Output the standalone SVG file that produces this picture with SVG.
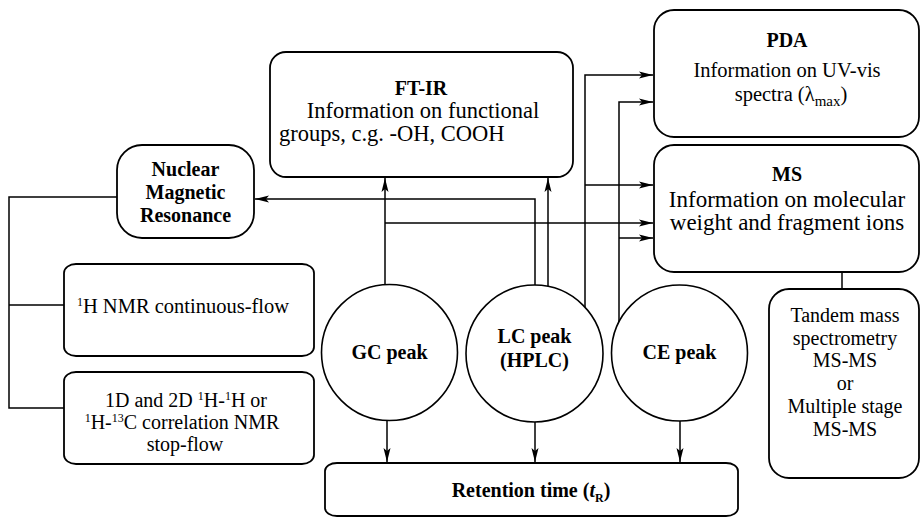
<svg xmlns="http://www.w3.org/2000/svg" width="922" height="518" viewBox="0 0 922 518">
  <defs>
    <marker id="arrow" viewBox="0 0 14 8" refX="14" refY="4" markerWidth="14" markerHeight="8" markerUnits="userSpaceOnUse" orient="auto">
      <path d="M0,0.5 L14,4 L0,7.5 L3,4 Z" fill="#000"/>
    </marker>
  </defs>
  <style>
    .box { fill: #fff; stroke: #000; stroke-width: 1.8; }
    .ring { fill: #fff; stroke: #000; stroke-width: 1.6; }
    .wire { fill: none; stroke: #000; stroke-width: 1.5; }
    .arr { marker-end: url(#arrow); }
    text { font-family: "Liberation Serif", "Times New Roman", serif; fill: #000; text-anchor: middle; }
    .hd { font-weight: bold; font-size: 20px; }
    .tx { font-size: 20px; }
    .mid { font-size: 20.5px; }
    .big { font-size: 22.5px; }
    .huge { font-size: 23px; }
    .sm { font-size: 12px; }
    .sub { font-size: 15px; }
    .start { text-anchor: start; }
  </style>

  <rect width="922" height="518" fill="#fff"/>

  <!-- connectors -->
  <g id="connectors">
    <!-- GC peak -->
    <path class="wire arr" d="M385,284 V178"/>
    <path class="wire arr" d="M385,223 H653"/>
    <path class="wire arr" d="M387,421 V462"/>
    <!-- LC peak -->
    <path class="wire arr" d="M535,287 V199 H255"/>
    <path class="wire arr" d="M548,289 V178"/>
    <path class="wire arr" d="M585,307 V75 H653"/>
    <path class="wire arr" d="M585,185 H653"/>
    <path class="wire arr" d="M535,422 V462"/>
    <!-- CE peak -->
    <path class="wire arr" d="M619,323 V102 H653"/>
    <path class="wire arr" d="M619,238 H653"/>
    <path class="wire arr" d="M680,421 V462"/>
    <!-- MS to tandem MS -->
    <path class="wire" d="M842,272 V289"/>
    <!-- NMR branches -->
    <path class="wire" d="M117,197 H9 V305 H64 M9,305 V408 H64"/>
  </g>

  <!-- FT-IR -->
  <g id="ftir">
    <rect class="box" x="270" y="52" width="303" height="125" rx="16" ry="16"/>
    <text class="hd" x="421" y="95">FT-IR</text>
    <text class="big" x="423" y="118">Information on functional</text>
    <text class="big start" x="279" y="141">groups, c.g. -OH, COOH</text>
  </g>

  <!-- PDA -->
  <g id="pda">
    <rect class="box" x="654" y="10" width="265" height="127" rx="20" ry="20"/>
    <text class="hd" x="787" y="47">PDA</text>
    <text class="mid" x="787" y="77">Information on UV-vis</text>
    <text class="mid" x="791" y="101">spectra (λ<tspan class="sub" dy="5">max</tspan><tspan dy="-5">)</tspan></text>
  </g>

  <!-- MS -->
  <g id="ms">
    <rect class="box" x="654" y="145" width="265" height="127" rx="20" ry="20"/>
    <text class="hd" x="787" y="181">MS</text>
    <text class="huge" x="787" y="207">Information on molecular</text>
    <text class="huge" x="787" y="230">weight and fragment ions</text>
  </g>

  <!-- Nuclear Magnetic Resonance -->
  <g id="nmr">
    <rect class="box" x="117" y="145" width="137" height="93" rx="25" ry="25"/>
    <text class="hd" x="185.5" y="176">Nuclear</text>
    <text class="hd" x="185.5" y="199">Magnetic</text>
    <text class="hd" x="185.5" y="222">Resonance</text>
  </g>

  <!-- 1H NMR continuous-flow -->
  <g id="nmr-continuous">
    <rect class="box" x="64" y="264" width="250" height="92" rx="12" ry="9"/>
    <text class="mid" x="183" y="313"><tspan class="sm" dy="-7">1</tspan><tspan dy="7">H NMR continuous-flow</tspan></text>
  </g>

  <!-- 1D / 2D NMR stop-flow -->
  <g id="nmr-stopflow">
    <rect class="box" x="64" y="372" width="250" height="92" rx="12" ry="9"/>
    <text class="tx" x="186" y="407">1D and 2D <tspan class="sm" dy="-7">1</tspan><tspan dy="7">H-</tspan><tspan class="sm" dy="-7">1</tspan><tspan dy="7">H or</tspan></text>
    <text class="tx" x="182" y="429"><tspan class="sm" dy="-7">1</tspan><tspan dy="7">H-</tspan><tspan class="sm" dy="-7">13</tspan><tspan dy="7">C correlation NMR</tspan></text>
    <text class="tx" x="185" y="451">stop-flow</text>
  </g>

  <!-- GC peak -->
  <g id="gc">
    <circle class="ring" cx="389.5" cy="352.5" r="68"/>
    <text class="hd" x="389.5" y="359">GC peak</text>
  </g>

  <!-- LC peak -->
  <g id="lc">
    <circle class="ring" cx="534.5" cy="353.5" r="68.5"/>
    <text class="hd" x="534.5" y="343">LC peak</text>
    <text class="hd" x="534.5" y="367">(HPLC)</text>
  </g>

  <!-- CE peak -->
  <g id="ce">
    <circle class="ring" cx="679.5" cy="353" r="68"/>
    <text class="hd" x="679.5" y="359">CE peak</text>
  </g>

  <!-- Tandem mass spectrometry -->
  <g id="tandem">
    <rect class="box" x="769" y="289" width="150" height="189" rx="20" ry="20"/>
    <text class="tx" x="845" y="322">Tandem mass</text>
    <text class="tx" x="845" y="345">spectrometry</text>
    <text class="tx" x="845" y="367">MS-MS</text>
    <text class="tx" x="845" y="390">or</text>
    <text class="tx" x="845" y="413">Multiple stage</text>
    <text class="tx" x="845" y="436">MS-MS</text>
  </g>

  <!-- Retention time -->
  <g id="retention">
    <rect class="box" x="325" y="463" width="413" height="53" rx="12" ry="8"/>
    <text class="hd" x="531" y="497">Retention time (<tspan font-style="italic">t</tspan><tspan class="sm" dy="5">R</tspan><tspan dy="-5">)</tspan></text>
  </g>
</svg>
